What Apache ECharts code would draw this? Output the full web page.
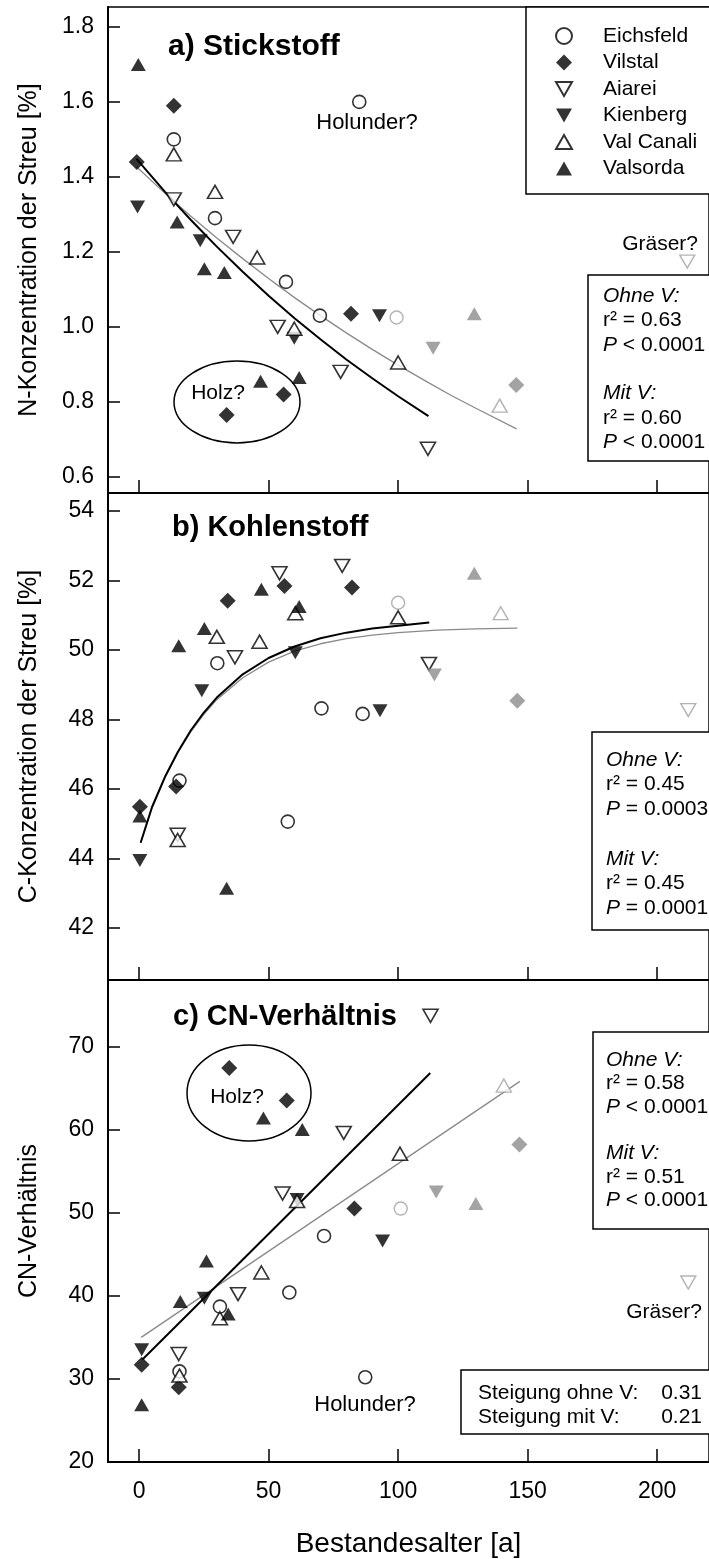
<!DOCTYPE html>
<html><head><meta charset="utf-8">
<script src="https://cdn.jsdelivr.net/npm/echarts@6/dist/echarts.min.js"></script>
<style>html,body{margin:0;padding:0;background:#fff}#c{width:709px;height:1559px}</style>
</head><body><div id="c"></div>
<script>
// ---------- data ----------
const sites = ['Eichsfeld', 'Vilstal', 'Aiarei', 'Kienberg', 'Val Canali', 'Valsorda'];
const xTicks = [0, 50, 100, 150, 200];
const nTicks = [0.6, 0.8, 1.0, 1.2, 1.4, 1.6, 1.8];
const cTicks = [42, 44, 46, 48, 50, 52, 54];
const cnTicks = [20, 30, 40, 50, 60, 70];

// a) Stickstoff [%]
const nEichsfeld = [[13.4, 1.50], [29.3, 1.29], [56.7, 1.12], [69.8, 1.03], [85, 1.60]];
const nVilstal = [[-0.9, 1.44], [13.4, 1.59], [33.8, 0.765], [55.8, 0.82], [81.8, 1.035]];
const nAiarei = [[13.4, 1.34], [36.3, 1.24], [53.5, 1.00], [77.8, 0.88], [111.5, 0.675]];
const nKienberg = [[-0.6, 1.32], [23.6, 1.23], [59.9, 0.97], [92.8, 1.03]];
const nValCanali = [[13.4, 1.46], [29.3, 1.36], [45.6, 1.185], [59.9, 0.995], [100, 0.905]];
const nValsorda = [[-0.3, 1.70], [14.7, 1.28], [25.2, 1.155], [32.9, 1.145], [46.9, 0.855], [61.8, 0.865]];
const nEichsfeldV = [[99.4, 1.025]];
const nVilstalV = [[145.6, 0.845]];
const nAiareiV = [[211.6, 1.174]];
const nKienbergV = [[113.5, 0.943]];
const nValCanaliV = [[139.2, 0.79]];
const nValsordaV = [[129.4, 1.035]];
const nFitOhne = [[-1, 1.448], [10, 1.36], [20, 1.285], [30, 1.214], [40, 1.147], [50, 1.083], [60, 1.023], [70, 0.967], [80, 0.913], [90, 0.863], [100, 0.815], [111.7, 0.762]];
const nFitMit = [[-1, 1.427], [10, 1.356], [20, 1.295], [30, 1.237], [40, 1.182], [50, 1.129], [60, 1.078], [70, 1.030], [80, 0.984], [90, 0.940], [100, 0.898], [110, 0.858], [120, 0.819], [130, 0.783], [145.7, 0.728]];

// b) Kohlenstoff [%]
const cEichsfeld = [[15.6, 46.24], [30.2, 49.62], [57.4, 45.06], [70.4, 48.32], [86.3, 48.16]];
const cVilstal = [[0.3, 45.49], [14.3, 46.07], [34.2, 51.42], [56.1, 51.84], [82.2, 51.8]];
const cAiarei = [[14.9, 44.68], [37, 49.79], [54.2, 52.21], [78.4, 52.42], [111.9, 49.6]];
const cKienberg = [[0.3, 43.94], [24.2, 48.83], [60.3, 49.92], [93, 48.25]];
const cValCanali = [[14.9, 44.53], [30, 50.38], [46.5, 50.24], [60.3, 51.06], [100, 50.94]];
const cValsorda = [[0.3, 45.22], [15.3, 50.12], [25.2, 50.62], [33.8, 43.14], [47.2, 51.75], [61.8, 51.25]];
const cEichsfeldV = [[100, 51.36]];
const cVilstalV = [[146, 48.54]];
const cAiareiV = [[212, 48.27]];
const cKienbergV = [[114, 49.28]];
const cValCanaliV = [[139.6, 51.06]];
const cValsordaV = [[129.4, 52.21]];
const cFitOhne = [[0.6, 44.45], [5, 45.48], [10, 46.35], [15, 47.07], [20, 47.69], [25, 48.2], [30, 48.63], [40, 49.3], [50, 49.77], [60, 50.1], [70, 50.34], [80, 50.5], [90, 50.62], [100, 50.7], [112, 50.79]];
const cFitMit = [[0.6, 44.45], [5, 45.45], [10, 46.33], [15, 47.05], [20, 47.65], [25, 48.15], [30, 48.57], [40, 49.2], [50, 49.65], [60, 49.97], [70, 50.18], [80, 50.33], [90, 50.43], [100, 50.5], [115, 50.57], [130, 50.61], [146, 50.63]];

// c) CN-Verhältnis
const cnEichsfeld = [[15.6, 30.9], [31.2, 38.7], [58, 40.4], [71.4, 47.2], [87.3, 30.2]];
const cnVilstal = [[1, 31.7], [15.3, 29.0], [34.8, 67.4], [57, 63.5], [83.1, 50.5]];
const cnAiarei = [[15.3, 33.0], [38.2, 40.2], [55.4, 52.3], [79, 59.6], [112.5, 73.7]];
const cnKienberg = [[1, 33.5], [25.2, 39.7], [61, 51.6], [94, 46.6]];
const cnValCanali = [[15.6, 30.4], [31.2, 37.3], [47.2, 42.8], [61, 51.4], [100.7, 57.1]];
const cnValsorda = [[1, 26.9], [15.9, 39.3], [26, 44.2], [34.4, 37.8], [48, 61.4], [63, 60.0]];
const cnEichsfeldV = [[101, 50.5]];
const cnVilstalV = [[146.8, 58.2]];
const cnAiareiV = [[212, 41.6]];
const cnKienbergV = [[114.7, 52.5]];
const cnValCanaliV = [[140.8, 65.3]];
const cnValsordaV = [[130, 51.1]];
const cnFitOhne = [[1.2, 32.3], [112.4, 66.8]];
const cnFitMit = [[0.8, 35.0], [147, 65.8]];

// ---------- styling ----------
const FF = '"Liberation Sans", Arial, Helvetica, sans-serif';
const symDown = 'path://M0,0L10,0L5,8.66Z';
const symUp = 'path://M5,0L10,8.66L0,8.66Z';
const siteSym = {
  'Eichsfeld': { symbol: 'circle', size: 13, hollow: true },
  'Vilstal': { symbol: 'diamond', size: [16, 16], hollow: false },
  'Aiarei': { symbol: symDown, size: [15, 13], hollow: true },
  'Kienberg': { symbol: symDown, size: [15, 13], hollow: false },
  'Val Canali': { symbol: symUp, size: [15, 13], hollow: true },
  'Valsorda': { symbol: symUp, size: [15, 13], hollow: false }
};
const panelData = [
  [nEichsfeld, nVilstal, nAiarei, nKienberg, nValCanali, nValsorda],
  [cEichsfeld, cVilstal, cAiarei, cKienberg, cValCanali, cValsorda],
  [cnEichsfeld, cnVilstal, cnAiarei, cnKienberg, cnValCanali, cnValsorda]
];
const panelDataV = [
  [nEichsfeldV, nVilstalV, nAiareiV, nKienbergV, nValCanaliV, nValsordaV],
  [cEichsfeldV, cVilstalV, cAiareiV, cKienbergV, cValCanaliV, cValsordaV],
  [cnEichsfeldV, cnVilstalV, cnAiareiV, cnKienbergV, cnValCanaliV, cnValsordaV]
];
const fitsOhne = [nFitOhne, cFitOhne, cnFitOhne];
const fitsMit = [nFitMit, cFitMit, cnFitMit];

const series = [];
for (let p = 0; p < 3; p++) {
  series.push({ type: 'line', xAxisIndex: p, yAxisIndex: p, data: fitsMit[p], showSymbol: false, symbol: 'none', silent: true, z: 1,
    lineStyle: { color: '#8a8a8a', width: 1.3 } });
  series.push({ type: 'line', xAxisIndex: p, yAxisIndex: p, data: fitsOhne[p], showSymbol: false, symbol: 'none', silent: true, z: 1,
    lineStyle: { color: '#000', width: 2 } });
  sites.forEach((s, i) => {
    const st = siteSym[s];
    series.push({
      name: s, type: 'scatter', xAxisIndex: p, yAxisIndex: p, data: panelData[p][i],
      symbol: st.symbol, symbolSize: st.size, z: 3,
      itemStyle: st.hollow ? { color: '#fff', borderColor: '#000', borderWidth: 1.6 } : { color: '#000', borderWidth: 0 }
    });
    series.push({
      name: s + ' V', type: 'scatter', xAxisIndex: p, yAxisIndex: p, data: panelDataV[p][i],
      symbol: st.symbol, symbolSize: st.size, z: 3,
      itemStyle: st.hollow ? { color: '#fff', borderColor: '#a0a0a0', borderWidth: 1.4 } : { color: '#8c8c8c', borderWidth: 0 }
    });
  });
}

const yRanges = [[0.557, 1.853], [40.5, 54.52], [20, 78]];
const yTickSets = [nTicks, cTicks, cnTicks];
const yNames = ['N-Konzentration der Streu [%]', 'C-Konzentration der Streu [%]', 'CN-Verhältnis'];
const gridTops = [7, 493, 980];
const gridHeights = [486, 487, 486];

const grids = gridTops.map((t, i) => ({ left: 108, top: t, width: 607, height: gridHeights[i], show: true, borderColor: '#000', borderWidth: 1.5, backgroundColor: 'transparent' }));
const xAxes = [0, 1, 2].map(i => ({
  type: 'value', gridIndex: i, min: -12, max: 220,
  axisLine: { show: true, onZero: false, lineStyle: { color: '#000', width: 2 } },
  axisTick: { show: true, inside: true, length: 13, customValues: xTicks, lineStyle: { color: '#000', width: 1.5 } },
  axisLabel: { show: i === 2, customValues: xTicks, fontSize: 23, color: '#000', fontFamily: FF, margin: 18 },
  splitLine: { show: false },
  name: i === 2 ? 'Bestandesalter [a]' : '', nameLocation: 'middle', nameGap: 68,
  nameTextStyle: { fontSize: 28, color: '#000', fontFamily: FF }
}));
const yAxes = [0, 1, 2].map(i => ({
  type: 'value', gridIndex: i, min: yRanges[i][0], max: yRanges[i][1],
  axisLine: { show: true, onZero: false, lineStyle: { color: '#000', width: 2 } },
  axisTick: { show: true, inside: true, length: 12, customValues: yTickSets[i], lineStyle: { color: '#000', width: 1.5 } },
  axisLabel: { show: true, customValues: yTickSets[i], fontSize: 23, color: '#000', fontFamily: FF, margin: 14,
    formatter: v => i === 0 ? Number(v).toFixed(1) : String(Math.round(v)) },
  splitLine: { show: false },
  name: yNames[i], nameLocation: 'middle', nameGap: 66, nameRotate: 90,
  nameTextStyle: { fontSize: 25, color: '#000', fontFamily: FF }
}));

function txt(x, y, s, extra) {
  return { type: 'text', x: x, y: y, z: 100,
    style: Object.assign({ text: s, fontSize: 21, fontFamily: FF, fill: '#000', align: 'left', verticalAlign: 'middle' }, extra || {}) };
}
const rich = {
  i: { fontStyle: 'italic', fontSize: 21, fontFamily: FF, fill: '#000' },
  n: { fontSize: 21, fontFamily: FF, fill: '#000' }
};
function statBlock(x, top, step, lines) {
  const out = [];
  lines.forEach((l, k) => { if (l) out.push(txt(x, top + k * step, l, { rich: rich })); });
  return out;
}
function box(x, y, w, h) {
  return { type: 'rect', z: 50, shape: { x: x, y: y, width: w, height: h }, style: { fill: '#fff', stroke: '#000', lineWidth: 1.5 } };
}

const graphics = [
  txt(168, 47, 'a) Stickstoff', { fontSize: 30, fontWeight: 'bold' }),
  txt(172, 528, 'b) Kohlenstoff', { fontSize: 29, fontWeight: 'bold' }),
  txt(173, 1017, 'c) CN-Verhältnis', { fontSize: 29, fontWeight: 'bold' }),
  txt(367, 123, 'Holunder?', { align: 'center', fontSize: 22 }),
  txt(365, 1405, 'Holunder?', { align: 'center', fontSize: 22 }),
  txt(698, 244, 'Gräser?', { align: 'right' }),
  txt(702, 1312, 'Gräser?', { align: 'right' }),
  { type: 'ellipse', z: 60, shape: { cx: 237, cy: 402, rx: 63, ry: 41 }, style: { fill: 'none', stroke: '#000', lineWidth: 1.5 } },
  { type: 'ellipse', z: 60, shape: { cx: 249, cy: 1093, rx: 62, ry: 48 }, style: { fill: 'none', stroke: '#000', lineWidth: 1.5 } },
  txt(218, 393, 'Holz?', { align: 'center' }),
  txt(237, 1097, 'Holz?', { align: 'center' }),
  box(588, 275, 200, 186),
  box(592, 732, 200, 198),
  box(593, 1032, 200, 197),
  box(461, 1370, 300, 64),
  txt(478, 1393, 'Steigung ohne V:'),
  txt(478, 1417, 'Steigung mit V:'),
  txt(702, 1393, '0.31', { align: 'right' }),
  txt(702, 1417, '0.21', { align: 'right' })
].concat(
  statBlock(603, 296, 24.4, ['{i|Ohne V:}', 'r² = 0.63', '{i|P}{n| < 0.0001}', '', '{i|Mit V:}', 'r² = 0.60', '{i|P}{n| < 0.0001}']),
  statBlock(606, 760, 24.7, ['{i|Ohne V:}', 'r² = 0.45', '{i|P}{n| = 0.0003}', '', '{i|Mit V:}', 'r² = 0.45', '{i|P}{n| = 0.0001}']),
  statBlock(606, 1060, 23.4, ['{i|Ohne V:}', 'r² = 0.58', '{i|P}{n| < 0.0001}', '', '{i|Mit V:}', 'r² = 0.51', '{i|P}{n| < 0.0001}'])
);

const option = {
  animation: false,
  backgroundColor: '#fff',
  grid: grids,
  xAxis: xAxes,
  yAxis: yAxes,
  legend: {
    data: sites, orient: 'vertical', left: 526, top: 7, z: 20,
    padding: [18.5, 80, 15, 29], itemWidth: 16, itemHeight: 16, itemGap: 5.5,
    backgroundColor: '#fff', borderColor: '#000', borderWidth: 1.5, selectedMode: false,
    textStyle: { fontSize: 21, color: '#000', fontFamily: FF, padding: [0, 0, 0, 26] }
  },
  graphic: graphics,
  series: series
};
const chart = echarts.init(document.getElementById('c'), null, { renderer: 'canvas' });
chart.setOption(option);
</script></body></html>
